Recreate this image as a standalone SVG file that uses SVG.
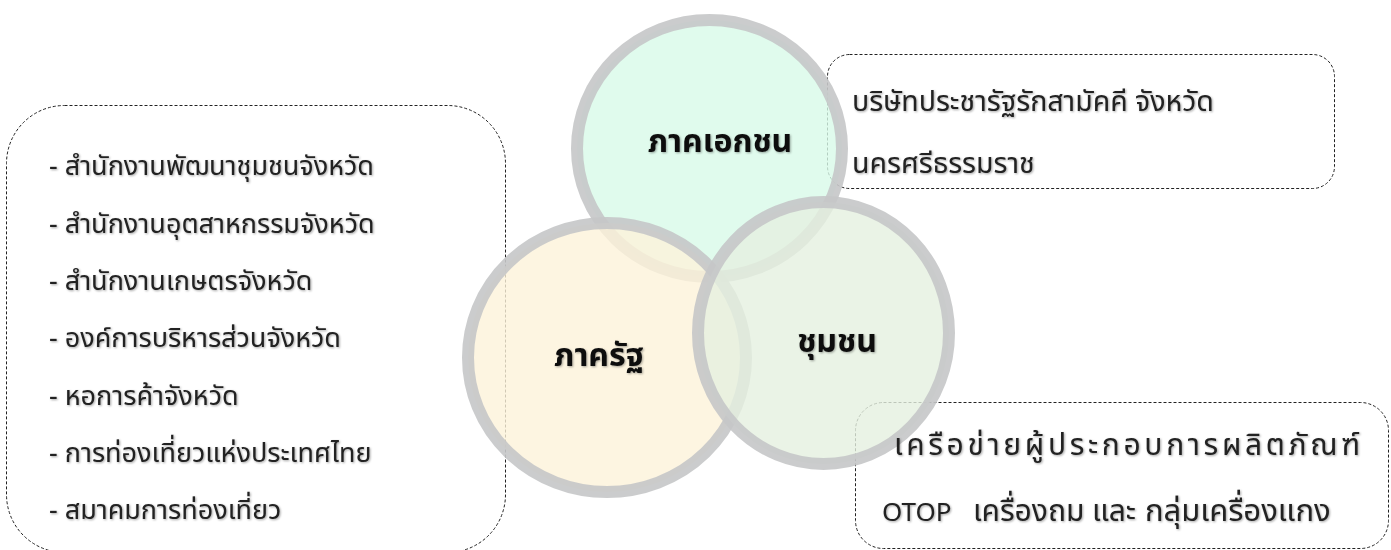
<svg xmlns="http://www.w3.org/2000/svg" width="1391" height="550" viewBox="0 0 1391 550">
<style>
.box{fill:none;stroke:#222;stroke-width:1;stroke-dasharray:3 2}
.circ{stroke:#C5C6C8;stroke-width:12;stroke-opacity:0.9}
.t{font-family:'Noto Sans','Noto Sans Thai',sans-serif;font-size:27px;fill:#222;filter:url(#sh)}
.t2{font-size:28.5px}
.t3{font-size:30px}
.lbl{font-family:'Noto Sans','Noto Sans Thai',sans-serif;font-size:32px;font-weight:bold;fill:#111;text-anchor:middle;filter:url(#sh)}
</style>
<defs>
<filter id="sh" x="-5%" y="-20%" width="110%" height="140%">
<feDropShadow dx="1" dy="1" stdDeviation="0.8" flood-color="#000" flood-opacity="0.35"/>
</filter>
</defs>
<g id="boxes">
<g id="box-left"><rect class="box" x="6.5" y="105.5" width="499" height="447" rx="58" ry="58"/></g>
<g id="box-top"><rect class="box" x="827.5" y="54.5" width="507" height="134" rx="22" ry="22"/></g>
<g id="box-bottom"><rect class="box" x="855.5" y="402.5" width="533" height="146" rx="28" ry="28"/></g>
</g>
<g id="circles">
<g id="node-private"><ellipse class="circ" cx="709.5" cy="148.5" rx="132.5" ry="128.5" fill="#D8FAE8" fill-opacity="0.8"/></g>
<g id="node-state"><ellipse class="circ" cx="607" cy="357.5" rx="139" ry="134.5" fill="#FDF2DA" fill-opacity="0.8"/></g>
<g id="node-community"><ellipse class="circ" cx="823.5" cy="333" rx="125.5" ry="131" fill="#E5F0E0" fill-opacity="0.8"/></g>
</g>
<g id="labels">
<text class="lbl" x="720" y="152">ภาคเอกชน</text>
<text class="lbl" x="599" y="366">ภาครัฐ</text>
<text class="lbl" x="837" y="352">ชุมชน</text>
</g>
<g id="list-left">
<text class="t" x="49" y="175">- สำนักงานพัฒนาชุมชนจังหวัด</text>
<text class="t" x="49" y="232.5">- สำนักงานอุตสาหกรรมจังหวัด</text>
<text class="t" x="49" y="290">- สำนักงานเกษตรจังหวัด</text>
<text class="t" x="49" y="347">- องค์การบริหารส่วนจังหวัด</text>
<text class="t" x="49" y="405">- หอการค้าจังหวัด</text>
<text class="t" x="49" y="462">- การท่องเที่ยวแห่งประเทศไทย</text>
<text class="t" x="49" y="519">- สมาคมการท่องเที่ยว</text>
</g>
<g id="text-top">
<text class="t t2" x="852" y="111">บริษัทประชารัฐรักสามัคคี จังหวัด</text>
<text class="t t2" x="852" y="173">นครศรีธรรมราช</text>
</g>
<g id="text-bottom">
<text class="t t3" x="894" y="455" textLength="466" lengthAdjust="spacing">เครือข่ายผู้ประกอบการผลิตภัณฑ์</text>
<text class="t t3" y="521"><tspan x="882" style="font-size:26px">OTOP</tspan><tspan x="973">เครื่องถม</tspan><tspan x="1092">และ</tspan><tspan x="1145" style="font-size:31px">กลุ่มเครื่องแกง</tspan></text>
</g>
</svg>
